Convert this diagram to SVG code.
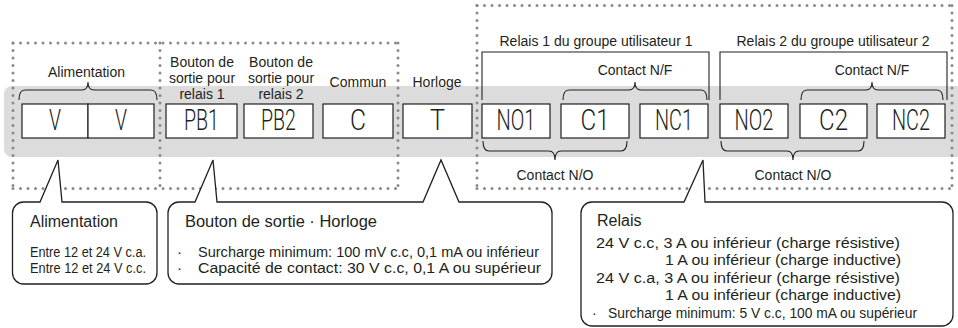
<svg xmlns="http://www.w3.org/2000/svg" width="958" height="328" viewBox="0 0 958 328">
<style>
.t{font-family:"Liberation Sans",Arial,Helvetica,sans-serif;fill:#231f20}
.lab{font-size:14px;text-anchor:middle}
.big{font-family:Roboto,"Liberation Sans",Arial,sans-serif;font-weight:300;font-size:30px;text-anchor:middle;fill:#231f20}
.cap{font-size:15.5px}
.sm{font-size:14px}
.box{fill:#fff;stroke:#231f20;stroke-width:1.2}
.dot{fill:none;stroke:#8a8a8a;stroke-width:3;stroke-linecap:round;stroke-dasharray:0 7.5}
.br{fill:none;stroke:#231f20;stroke-width:1.1}
.co{fill:#fff;stroke:#231f20;stroke-width:1.3;stroke-linejoin:miter}
</style>
<rect x="4" y="86" width="970" height="71" rx="8" fill="#dcdcdd"/>
<g id="groups">
<line class="dot" x1="13" y1="43" x2="398" y2="43"/>
<line class="dot" x1="13" y1="43" x2="13" y2="188.5"/>
<line class="dot" x1="13" y1="188.5" x2="398" y2="188.5"/>
<line class="dot" x1="398" y1="43" x2="398" y2="188.5"/>
<line class="dot" x1="160" y1="43" x2="160" y2="186"/>
<line class="dot" x1="477" y1="5.5" x2="952" y2="5.5"/>
<line class="dot" x1="477" y1="5.5" x2="477" y2="188.5"/>
<line class="dot" x1="477" y1="188.5" x2="952" y2="188.5"/>
<line class="dot" x1="952" y1="5.5" x2="952" y2="188.5"/>
</g>
<g id="connectors">
<path class="br" d="M19,100 Q19,90 25,90 L82,90 Q88,90 88,82 Q88,90 94,90 L151,90 Q157,90 157,100"/>
<path class="br" d="M563,100 Q563,90 569,90 L629,90 Q635,90 635,82 Q635,90 641,90 L701,90 Q707,90 707,100"/>
<path class="br" d="M801,100 Q801,90 807,90 L866,90 Q872,90 872,82 Q872,90 878,90 L937,90 Q943,90 943,100"/>
<path class="br" d="M483,141 Q483,151 489,151 L549,151 Q555,151 555,160 Q555,151 561,151 L621,151 Q627,151 627,141"/>
<path class="br" d="M721,141 Q721,151 727,151 L787,151 Q793,151 793,160 Q793,151 799,151 L858,151 Q864,151 864,141"/>
<path class="br" d="M482,100 V52 H709 V100"/>
<path class="br" d="M720,100 V52 H947 V100"/>
</g>
<g id="labels">
<text class="t lab" x="86.5" y="77">Alimentation</text>
<text class="t lab" x="202" y="67">Bouton de</text>
<text class="t lab" x="202" y="83">sortie pour</text>
<text class="t lab" x="202" y="99">relais 1</text>
<text class="t lab" x="281" y="67">Bouton de</text>
<text class="t lab" x="281" y="83">sortie pour</text>
<text class="t lab" x="281" y="99">relais 2</text>
<text class="t lab" x="358" y="87">Commun</text>
<text class="t lab" x="437" y="87">Horloge</text>
<text class="t lab" x="596" y="46">Relais 1 du groupe utilisateur 1</text>
<text class="t lab" x="833" y="46">Relais 2 du groupe utilisateur 2</text>
<text class="t lab" x="635" y="75">Contact N/F</text>
<text class="t lab" x="872" y="75">Contact N/F</text>
<text class="t lab" x="555" y="180">Contact N/O</text>
<text class="t lab" x="793" y="180">Contact N/O</text>
</g>
<g id="node-V1"><rect class="box" x="22" y="104" width="66" height="34"/><text class="big" x="55" y="130" textLength="12" lengthAdjust="spacingAndGlyphs">V</text></g>
<g id="node-V2"><rect class="box" x="88" y="104" width="66" height="34"/><text class="big" x="121" y="130" textLength="12" lengthAdjust="spacingAndGlyphs">V</text></g>
<g id="node-PB1"><rect class="box" x="166" y="104" width="71" height="34"/><text class="big" x="201.5" y="130" textLength="35" lengthAdjust="spacingAndGlyphs">PB1</text></g>
<g id="node-PB2"><rect class="box" x="244" y="104" width="69" height="34"/><text class="big" x="278.5" y="130" textLength="35" lengthAdjust="spacingAndGlyphs">PB2</text></g>
<g id="node-C"><rect class="box" x="323" y="104" width="70" height="34"/><text class="big" x="358" y="130" textLength="16" lengthAdjust="spacingAndGlyphs">C</text></g>
<g id="node-T"><rect class="box" x="403" y="104" width="69" height="34"/><text class="big" x="437.5" y="130" textLength="15" lengthAdjust="spacingAndGlyphs">T</text></g>
<g id="node-NO1"><rect class="box" x="482" y="104" width="68" height="34"/><text class="big" x="516" y="130" textLength="39" lengthAdjust="spacingAndGlyphs">NO1</text></g>
<g id="node-C1"><rect class="box" x="561" y="104" width="68" height="34"/><text class="big" x="595" y="130" textLength="29" lengthAdjust="spacingAndGlyphs">C1</text></g>
<g id="node-NC1"><rect class="box" x="640" y="104" width="68" height="34"/><text class="big" x="674" y="130" textLength="38" lengthAdjust="spacingAndGlyphs">NC1</text></g>
<g id="node-NO2"><rect class="box" x="720" y="104" width="68" height="34"/><text class="big" x="754" y="130" textLength="39" lengthAdjust="spacingAndGlyphs">NO2</text></g>
<g id="node-C2"><rect class="box" x="800" y="104" width="67" height="34"/><text class="big" x="833.5" y="130" textLength="29" lengthAdjust="spacingAndGlyphs">C2</text></g>
<g id="node-NC2"><rect class="box" x="877" y="104" width="68" height="34"/><text class="big" x="911" y="130" textLength="38" lengthAdjust="spacingAndGlyphs">NC2</text></g>
<g id="callout-alimentation">
<path class="co" d="M23.5,202 H40 L58,160 L62,202 H146 A11,11 0 0 1 157,213 V273 A11,11 0 0 1 146,284 H23.5 A11,11 0 0 1 12.5,273 V213 A11,11 0 0 1 23.5,202 Z"/>
<text class="t" style="font-size:16px" x="30" y="227" textLength="88" lengthAdjust="spacingAndGlyphs">Alimentation</text>
<text class="t sm" x="30" y="257" textLength="116" lengthAdjust="spacingAndGlyphs">Entre 12 et 24 V c.a.</text>
<text class="t sm" x="30" y="273" textLength="116" lengthAdjust="spacingAndGlyphs">Entre 12 et 24 V c.c.</text>
</g>
<g id="callout-bouton">
<path class="co" d="M179,202 H195 L213,160 L217,202 H423 L441,160 L459,202 H541 A11,11 0 0 1 552,213 V273 A11,11 0 0 1 541,284 H179 A11,11 0 0 1 168,273 V213 A11,11 0 0 1 179,202 Z"/>
<text class="t" style="font-size:16px" x="185" y="227" textLength="192" lengthAdjust="spacingAndGlyphs">Bouton de sortie · Horloge</text>
<text class="t cap" x="177" y="257">·</text>
<text class="t cap" x="198" y="257" textLength="341" lengthAdjust="spacingAndGlyphs">Surcharge minimum: 100 mV c.c, 0,1 mA ou inférieur</text>
<text class="t cap" x="177" y="273">·</text>
<text class="t cap" x="198" y="273" textLength="343" lengthAdjust="spacingAndGlyphs">Capacité de contact: 30 V c.c, 0,1 A ou supérieur</text>
</g>
<g id="callout-relais">
<path class="co" d="M592,202 H684 L703,160 L705,202 H942 A11,11 0 0 1 953,213 V315 A11,11 0 0 1 942,326 H592 A11,11 0 0 1 581,315 V213 A11,11 0 0 1 592,202 Z"/>
<text class="t" style="font-size:16px" x="597" y="226">Relais</text>
<text class="t cap" x="596" y="248" textLength="304" lengthAdjust="spacingAndGlyphs">24 V c.c, 3 A ou inférieur (charge résistive)</text>
<text class="t cap" x="665" y="265" textLength="236" lengthAdjust="spacingAndGlyphs">1 A ou inférieur (charge inductive)</text>
<text class="t cap" x="596" y="283" textLength="304" lengthAdjust="spacingAndGlyphs">24 V c.a, 3 A ou inférieur (charge résistive)</text>
<text class="t cap" x="665" y="300" textLength="236" lengthAdjust="spacingAndGlyphs">1 A ou inférieur (charge inductive)</text>
<text class="t" style="font-size:14px" x="592" y="318">·</text>
<text class="t" style="font-size:14px" x="608" y="318" textLength="309" lengthAdjust="spacingAndGlyphs">Surcharge minimum: 5 V c.c, 100 mA ou supérieur</text>
</g>
</svg>
